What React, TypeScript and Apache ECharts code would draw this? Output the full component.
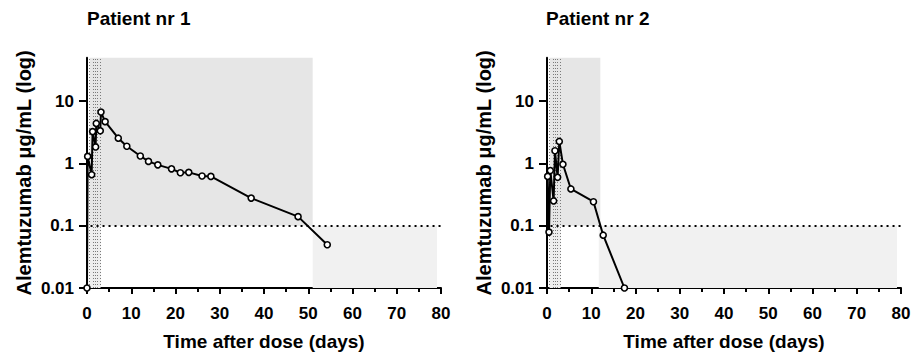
import React, { useEffect, useRef } from "react";
import * as echarts from "echarts";

const p1Days = [0, 0.15, 1.05, 1.27, 1.95, 2.1, 3.0, 3.16, 4.1, 7.07, 9.0, 12.05, 13.9, 16.0, 19.1, 21.1, 23.0, 26.0, 28.0, 37.1, 47.7, 54.3];
const p1Conc = [0.01, 1.3, 0.66, 3.25, 1.84, 4.4, 3.35, 6.7, 4.7, 2.55, 1.89, 1.32, 1.08, 0.95, 0.82, 0.71, 0.72, 0.63, 0.62, 0.278, 0.14, 0.0495];

const p2Days = [0.15, 0.45, 0.75, 1.5, 1.8, 2.4, 2.78, 3.6, 5.4, 10.5, 12.7, 17.5];
const p2Conc = [0.62, 0.079, 0.77, 0.25, 1.6, 0.6, 2.26, 0.97, 0.39, 0.243, 0.0705, 0.01];

const infusionLines = [0.6, 1.3, 1.8, 2.4, 3.0];
const yTicks = [0.01, 0.1, 1, 10];
const xTicks = [0, 10, 20, 30, 40, 50, 60, 70, 80];
const limitOfQuant = 0.1;

// shaded windows: [start, end] in days
const p1Upper = [0.6, 51.0];
const p1Lower = [51.0, 79.1];
const p2Upper = [0.6, 12.05];
const p2Lower = [11.7, 79.1];
const earlyStrip = [0.6, 3.1];

const FONT = "'Liberation Sans', Arial, Helvetica, sans-serif";
const Y_MAX = 50;

function axesFor(idx: number) {
  return {
    x: {
      type: "value",
      gridIndex: idx,
      min: 0,
      max: 80,
      interval: 10,
      name: "Time after dose (days)",
      nameLocation: "middle",
      nameGap: 44,
      nameTextStyle: { fontFamily: FONT, fontWeight: "bold", fontSize: 19, color: "#000" },
      axisLine: { show: true, onZero: false, lineStyle: { color: "#000", width: 2 } },
      axisTick: { show: true, length: 6, lineStyle: { color: "#000", width: 2 } },
      minorTick: { show: true, splitNumber: 2, length: 4, lineStyle: { color: "#000", width: 2 } },
      axisLabel: {
        fontFamily: FONT,
        fontWeight: "bold",
        fontSize: 17,
        color: "#000",
        margin: 17,
        formatter: (v: number) => (xTicks.indexOf(v) >= 0 ? String(v) : ""),
      },
      splitLine: { show: false },
      minorSplitLine: { show: false },
    },
    y: {
      type: "log",
      logBase: 10,
      gridIndex: idx,
      min: 0.01,
      max: Y_MAX,
      name: "Alemtuzumab μg/mL (log)",
      nameLocation: "middle",
      nameRotate: 90,
      nameGap: 53,
      nameTextStyle: { fontFamily: FONT, fontWeight: "bold", fontSize: 20, color: "#000" },
      axisLine: { show: true, onZero: false, lineStyle: { color: "#000", width: 2 } },
      axisTick: { show: true, length: 8, customValues: yTicks, lineStyle: { color: "#000", width: 2 } },
      minorTick: { show: false },
      axisLabel: {
        fontFamily: FONT,
        fontWeight: "bold",
        fontSize: 17,
        color: "#000",
        margin: 13,
        customValues: yTicks,
        formatter: (v: number) => {
          for (const t of yTicks) if (Math.abs(v - t) / t < 1e-6) return String(t);
          return "";
        },
      },
      splitLine: { show: false },
    },
  };
}

function shadeSeries(idx: number, upper: number[], lower: number[]) {
  return {
    type: "line",
    xAxisIndex: idx,
    yAxisIndex: idx,
    data: [],
    z: 1,
    silent: true,
    markArea: {
      silent: true,
      label: { show: false },
      data: [
        [
          { xAxis: upper[0], yAxis: limitOfQuant, itemStyle: { color: "#e6e6e6" } },
          { xAxis: upper[1], yAxis: Y_MAX },
        ],
        [
          { xAxis: earlyStrip[0], yAxis: 0.01, itemStyle: { color: "#eeeeee" } },
          { xAxis: earlyStrip[1], yAxis: limitOfQuant },
        ],
        [
          { xAxis: lower[0], yAxis: 0.01, itemStyle: { color: "#f1f1f1" } },
          { xAxis: lower[1], yAxis: limitOfQuant },
        ],
      ],
    },
    markLine: {
      silent: true,
      symbol: ["none", "none"],
      label: { show: false },
      data: [
        ...infusionLines.map((d) => ({
          xAxis: d,
          lineStyle: { color: "#7a7a7a", width: 1, type: [1, 2] },
        })),
        [
          { coord: [infusionLines[0] + 0.2, limitOfQuant], lineStyle: { color: "#000", width: 2, type: [2, 4] } },
          { coord: [80, limitOfQuant] },
        ],
      ],
    },
  };
}

function dataSeries(idx: number, days: number[], conc: number[]) {
  return {
    type: "line",
    xAxisIndex: idx,
    yAxisIndex: idx,
    z: 5,
    data: days.map((d, i) => [d, conc[i]]),
    symbol: "circle",
    symbolSize: 6,
    showAllSymbol: true,
    clip: false,
    lineStyle: { color: "#000", width: 2 },
    itemStyle: { color: "#fff", borderColor: "#000", borderWidth: 1.6 },
  };
}

export default function App() {
  const ref = useRef<HTMLDivElement>(null);
  useEffect(() => {
    if (!ref.current) return;
    const chart = echarts.init(ref.current, undefined, { renderer: "svg" });
    const a0 = axesFor(0);
    const a1 = axesFor(1);
    const titleStyle = { fontFamily: FONT, fontWeight: "bold", fontSize: 19, color: "#000" };
    chart.setOption({
      animation: false,
      backgroundColor: "#fff",
      title: [
        { text: "Patient nr 1", left: 87, top: 9, padding: 0, textStyle: titleStyle },
        { text: "Patient nr 2", left: 546, top: 9, padding: 0, textStyle: titleStyle },
      ],
      grid: [
        { left: 87, top: 57.7, width: 354, height: 235.6 },
        { left: 547, top: 57.7, width: 354, height: 235.6 },
      ],
      xAxis: [a0.x, a1.x],
      yAxis: [a0.y, a1.y],
      series: [
        shadeSeries(0, p1Upper, p1Lower),
        shadeSeries(1, p2Upper, p2Lower),
        dataSeries(0, p1Days, p1Conc),
        dataSeries(1, p2Days, p2Conc),
      ],
    });
    return () => chart.dispose();
  }, []);
  return (
    <div
      ref={ref}
      style={{ position: "absolute", left: 0, top: 0, width: 923, height: 356, background: "#fff" }}
    />
  );
}
